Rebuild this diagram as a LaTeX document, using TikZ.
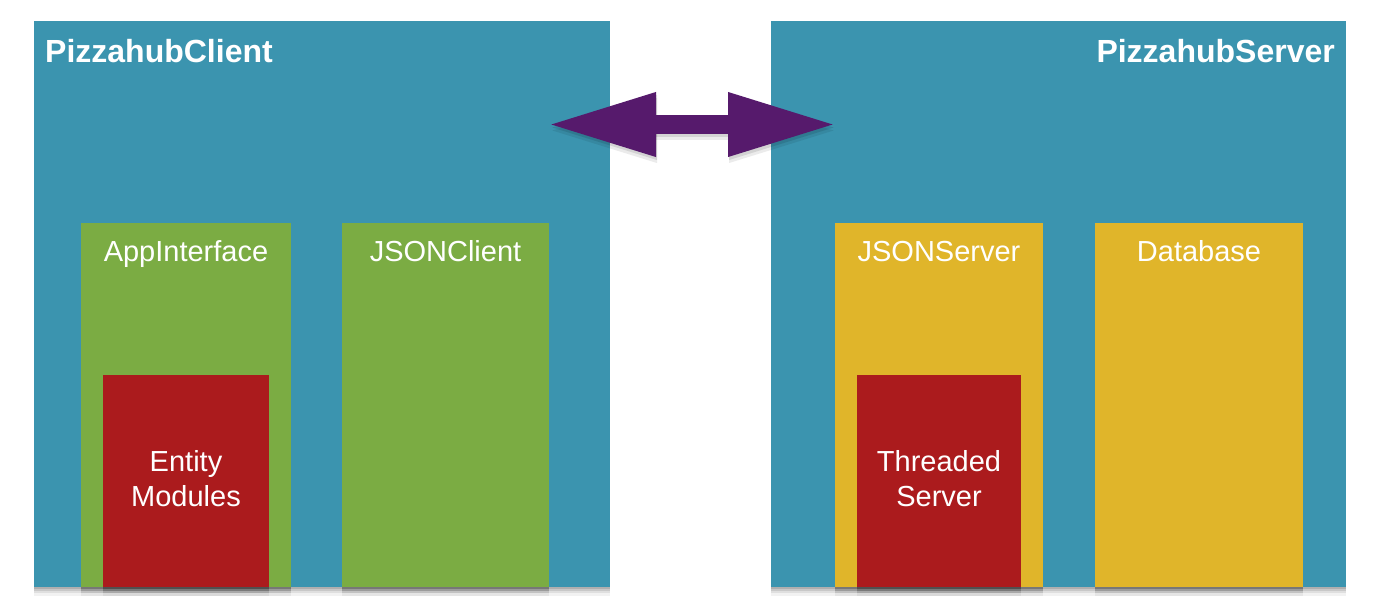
\documentclass[tikz,border=0pt]{standalone}
\usepackage{fontspec}
\setmainfont{Liberation Sans}
\usetikzlibrary{arrows.meta,shadows}
\definecolor{tealbg}{HTML}{3B94AF}
\definecolor{leafgreen}{HTML}{7BAC43}
\definecolor{goldbox}{HTML}{E0B52A}
\definecolor{redbox}{HTML}{AB1B1D}
\definecolor{arrowpurple}{HTML}{561A6C}
\begin{document}
\begin{tikzpicture}[x=1pt,y=-1pt,
  softshadow/.style={
    drop shadow={shadow xshift=0pt, shadow yshift=-2pt, opacity=0.12, fill=black},
    drop shadow={shadow xshift=0pt, shadow yshift=-4pt, opacity=0.10, fill=black},
    drop shadow={shadow xshift=0pt, shadow yshift=-6pt, opacity=0.08, fill=black},
    drop shadow={shadow xshift=0pt, shadow yshift=-9pt, opacity=0.05, fill=black}},
  box/.style={anchor=north west, inner sep=0pt, outer sep=0pt, softshadow},
  bigbox/.style={box, fill=tealbg},
  greenbox/.style={box, fill=leafgreen},
  goldbx/.style={box, fill=goldbox},
  redbx/.style={box, fill=redbox},
  title/.style={text=white, font=\fontsize{32}{38}\selectfont\bfseries, inner sep=0pt},
  label/.style={text=white, font=\fontsize{29}{35}\selectfont, inner sep=0pt, align=center},
  dblarrow/.style={arrowpurple, line width=19pt,
    {Triangle[length=109pt,width=59pt]}-{Triangle[length=109pt,width=59pt]}}
]
\useasboundingbox[fill=white] (0,0) rectangle (1378,610);

% big containers
\node[bigbox, minimum width=576pt, minimum height=566pt] (client) at (34,21) {};
\node[bigbox, minimum width=575pt, minimum height=566pt] (server) at (771,21) {};

% client components
\node[greenbox, minimum width=210pt, minimum height=364pt] (appif) at (81,223) {};
\node[greenbox, minimum width=207pt, minimum height=364pt] (jclient) at (342,223) {};
\node[redbx, minimum width=166pt, minimum height=212pt] (entity) at (103,375) {};

% server components
\node[goldbx, minimum width=208pt, minimum height=364pt] (jserver) at (835,223) {};
\node[goldbx, minimum width=208pt, minimum height=364pt] (db) at (1095,223) {};
\node[redbx, minimum width=164pt, minimum height=212pt] (threaded) at (857,375) {};

% titles
\node[title, anchor=base west] (clientlbl) at (45,63) {PizzahubClient};
\node[title, anchor=base east] (serverlbl) at (1335,63) {PizzahubServer};

% component labels
\node[label, anchor=base] (appiflbl) at (186,261) {AppInterface};
\node[label, anchor=base] (jclientlbl) at (445.5,261) {JSONClient};
\node[label, anchor=base] (jserverlbl) at (939,261) {JSONServer};
\node[label, anchor=base] (dblbl) at (1199,261) {Database};
\node[label, anchor=center] (entitylbl) at (186,479) {Entity\\Modules};
\node[label, anchor=center] (threadedlbl) at (939,479) {Threaded\\Server};

% double arrow between client and server
\coordinate (arrL) at (547,124.5);
\coordinate (arrR) at (837,124.5);
\draw[dblarrow, draw=black, opacity=0.10] ([shift={(1,3)}]arrL) -- ([shift={(1,3)}]arrR);
\draw[dblarrow, draw=black, opacity=0.08] ([shift={(1,6)}]arrL) -- ([shift={(1,6)}]arrR);
\draw[dblarrow] (arrL) -- (arrR);
\end{tikzpicture}
\end{document}
